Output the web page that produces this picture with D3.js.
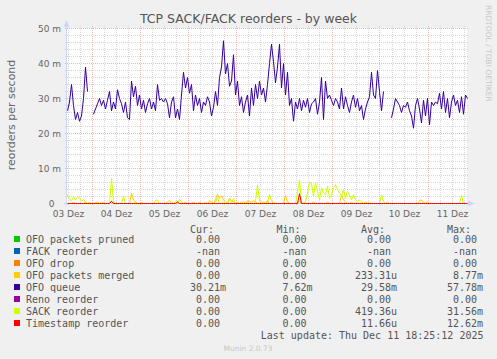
<!DOCTYPE html>
<html><head><meta charset="utf-8">
<script src="https://cdn.jsdelivr.net/npm/d3@7"></script>
<style>body{margin:0;background:#f0f0f0}svg{display:block}text{white-space:pre}</style>
</head><body><svg id="c" width="497" height="359"></svg>
<script>
const chartTitle = "TCP SACK/FACK reorders - by week";
const yTitle = "reorders per second";
const yTicks = [0, 10, 20, 30, 40, 50];
const yTickLabels = ["0", "10 m", "20 m", "30 m", "40 m", "50 m"];
const xLabelDays = [3, 4, 5, 6, 7, 8, 9, 10, 11];
const xLabels = ["03 Dez", "04 Dez", "05 Dez", "06 Dez", "07 Dez", "08 Dez", "09 Dez", "10 Dez", "11 Dez"];

// hourly samples (milli-reorders per second), starting 03 Dez 11:30
const ofoQueue = [
26.5,29,34,28,24,26,23.5,25,30,39,
32,null,null,25.5,27,28.5,30,28,29.5,27,
29.5,32,26.5,29,27,32.5,30,28.5,26,29,
24.5,24,35,30.5,33.5,28,31,27,29.5,26,
28.5,30,27,29,26.5,34,29.5,30,29,30,
28.5,24.5,29,30.5,24.5,27,24,31,37.5,33,
36,31.5,34,26.5,31,28,30,26,29,28,
30.5,29,25,27.5,32,28,36,39,46.5,37,
40,33.5,35,42.5,31,35,28,30.5,26,29,
31,25,33,28,34,30,35,31,33,29,
34,40,45.5,40.5,34.5,39,45.5,33,40,31,
37.5,28,30,23.5,29,27,30,26.5,29.5,27.5,
30,26,28.5,29,30,25.5,29,36,24,35,
30,31,29.5,28,30,29,27,33,27,30.5,
28,26,29,31,27.5,30,26.5,28,24,27,
29,30.5,37.5,31,30,38,32,26.5,32,null,
null,null,24.5,27,30,29,28,26,28,27.5,
29,26.5,25,21.5,28,30,27,23,29.5,25,
30,22.5,29,28,29,28.5,31.5,27,32,26,
30,24.5,29,31,28,29.5,26,30.5,25.5,31,
30];
const sackReorder = [
2.5,1.2,0.8,1.8,1,2,1.5,0.6,1.2,0.4,
0,0.3,0,0,0.3,0,0,0.2,0,0,
0,0,7.2,0.4,0,0,0,0,2.2,0,
0,0,0,0,0.5,0,0,0,0,0,
0,0,0,0,0.8,1,0,0,0,0,
0,0,0,0,0.5,0.3,1.2,0.4,0,0,
0,0,0,0,0,0,0,0,0,0.3,
0,0,0,0,0.4,1.7,0,0,0.5,0,
0.5,1,0.3,1.4,0,0,0,0.4,0,0,
0.3,0,0,0,0.5,5.3,0.8,0,0.4,0,
0.3,2.6,0.8,0,0,0,0,0,0,0,
0,0,0,0,0,3,6.8,0,0.3,0.5,
3,6,5.8,2,6,3.5,1,4.5,3,2.5,
5,1.5,2.5,4.5,5.4,4,3,2,4,1.5,
3.5,2.5,1,2.5,1.2,0.6,1,0.5,0,0.5,
0,0.3,0,0,0,0,0,2.5,0.5,0,
0.3,0,0,0,0,0,0,0,0,0,
0,0,0,0,0,0,0,0,0,0,
0,0,0,0,0,0,0,0,0,0,
0,0,0,0,0,0,0,2.3,0,0,
0];
const ofoMerged = [
0,0,0,0.3,0,0,0,0,0,0.4,
0,0,0,0,0,0.5,0,0,0.3,0,
0,0,0.8,0,0,0,0,0,0,0,
0,0,3,1,0.5,0,0,0.3,0,0,
0,0,0,0,0,0,0,0,0,0,
0.5,0.8,0.3,0,0,0.5,0,0,0,0.3,
0,0,0,0.4,0,0,0.3,0,0,0,
0,0.8,0.5,0,1.2,2.6,1.5,2.2,1,0.5,
0,1.5,0.8,0.5,0,0.3,0,0,0.6,0,
0.8,0.5,0.4,0.8,0.5,0,0,0.6,0,0.4,
0.8,0,0,0.3,0,0,0,0,0,2.3,
0.5,0,0,0,0,0,0.8,0,0,0,
0,0,0,0.5,0,0,0,0,0,0,
0.4,0,0,0,0,0,0,2.5,1,0.5,
0,0,0.3,0,0,0,0,0,0,0,
0,0,0,0,0,0,0,0,0,0,
0,0,0,0,0,0,0,0,0,0,
0,0,0,0,0,0,0.8,1,0.4,0,
0.5,0,0,0,0,0,0,0,0,0,
0,0,0,0,0,0,0,0,0,0,
0];
const tsReorder = [
0,0,0,0,0,0,0,0,0,0,
0,0,0,0,0,0,0,0,0,0,
0,0,0.6,0,0,0,0,0,0,0,
0,0,0,0,0,0,0,0,0,0,
0,0,0,0,0,0,0,0,0,0,
0,0,0,0,0,0.4,0,0,0,0,
0,0,0,0,0,0,0,0,0,0,
0,0,0,0,0,0,0,0,0,0,
0,0,0,0,0,0,0,0,0,0,
0,0,0,0,0,0,0,0,0,0,
0,0,0,0,0,0,0,0,0,0,
0,0,0,0,0,0,2.8,0,0,0,
0,0,0,0,0,0,0,0,0,0,
0,0,0,0,0,0,0,0,0,0,
0,0,0,0,0,0,0,0,0,0,
0,0,0,0,0,0,0,0,0,0,
0,0,0,0,0,0,0,0,0,0,
0,0,0,0,0,0,0,0,0,0,
0,0,0,0,0,0,0,0,0,0,
0,0,0,0,0,0,0,0,0,0,
0];

const legendNames = ["OFO packets pruned", "FACK reorder", "OFO drop", "OFO packets merged", "OFO queue", "Reno reorder", "SACK reorder", "Timestamp reorder"];
const legendColors = ["#00cc00", "#0066b3", "#ff8000", "#ffcc00", "#330099", "#990099", "#ccff00", "#ff0000"];
const curVals = ["0.00", "-nan", "0.00", "0.00", "30.21m", "0.00", "0.00", "0.00"];
const minVals = ["0.00", "-nan", "0.00", "0.00", "7.62m", "0.00", "0.00", "0.00"];
const avgVals = ["0.00", "-nan", "0.00", "233.31u", "29.58m", "0.00", "419.36u", "11.66u"];
const maxVals = ["0.00", "-nan", "0.00", "8.77m", "57.78m", "0.00", "31.56m", "12.62m"];
const colHeaders = ["Cur:", "Min:", "Avg:", "Max:"];
const lastUpdate = "Last update: Thu Dec 11 18:25:12 2025";
const munin = "Munin 2.0.73";
const watermark = "RRDTOOL / TOBI OETIKER";

const svg = d3.select("#c");
const SANS = "DejaVu Sans, sans-serif", MONO = "DejaVu Sans Mono, monospace";
svg.append("rect").attr("width", 497).attr("height", 359).attr("fill", "#f0f0f0");

const t0 = new Date(2025, 11, 3, 11, 30), t1 = new Date(2025, 11, 11, 19, 30);
const x = d3.scaleTime().domain([t0, t1]).range([67.5, 467.5]);
const y = d3.scaleLinear().domain([0, 50]).range([203.5, 28.5]);
const tAt = i => d3.timeHour.offset(t0, i);

svg.append("rect").attr("x", 67).attr("y", 28).attr("width", 400).attr("height", 175).attr("fill", "#fff");

const grid = svg.append("g").attr("stroke-width", 1).attr("stroke-dasharray", "1,1");
const minorC = "#d6d6d6", majorC = "#f0b4b4";
grid.selectAll(".hm").data(d3.range(0, 51, 2).filter(v => v % 10 !== 0)).join("line")
  .attr("x1", 65).attr("x2", 469).attr("y1", d => y(d)).attr("y2", d => y(d)).attr("stroke", minorC);
const sixH = d3.timeHour.every(6).range(t0, t1).filter(d => d.getHours() !== 0);
grid.selectAll(".vm").data(sixH).join("line")
  .attr("x1", d => Math.round(x(d)) - 0.5).attr("x2", d => Math.round(x(d)) - 0.5).attr("y1", 205).attr("y2", 25).attr("stroke", minorC);
grid.selectAll(".hM").data(yTicks).join("line")
  .attr("x1", 65).attr("x2", 469).attr("y1", d => y(d)).attr("y2", d => y(d)).attr("stroke", majorC);
const days = d3.timeDay.range(t0, t1);
grid.selectAll(".vM").data(days).join("line")
  .attr("x1", d => Math.round(x(d)) - 0.5).attr("x2", d => Math.round(x(d)) - 0.5).attr("y1", 205).attr("y2", 25).attr("stroke", majorC);

const axc = "#cfd6f8";
svg.append("line").attr("x1", 66.5).attr("x2", 66.5).attr("y1", 206).attr("y2", 24).attr("stroke", axc);
svg.append("path").attr("d", "M63.5,27L69.5,27L66.5,20Z").attr("fill", axc);
svg.append("line").attr("x1", 64).attr("x2", 470).attr("y1", 203.5).attr("y2", 203.5).attr("stroke", axc);
svg.append("path").attr("d", "M468,200.5L468,206.5L475,203.5Z").attr("fill", axc);

const line = d3.line().defined(d => d != null).x((d, i) => x(tAt(i))).y(d => y(d));
function draw(data, color) {
  svg.append("path").datum(data).attr("d", line).attr("fill", "none").attr("stroke", color).attr("stroke-width", 1);
}
draw(ofoMerged, legendColors[3]);
draw(ofoQueue, legendColors[4]);
draw(sackReorder, legendColors[6]);
draw(tsReorder, legendColors[7]);

svg.append("g").selectAll("text").data(yTicks).join("text")
  .attr("x", (d, i) => i === 0 ? 54.5 : 61).attr("y", d => y(d) + 3.5)
  .attr("text-anchor", "end").attr("font-family", SANS).attr("font-size", 9).attr("fill", "#666")
  .text((d, i) => yTickLabels[i]);
svg.append("g").selectAll("text").data(xLabelDays).join("text")
  .attr("x", d => x(new Date(2025, 11, d, 12))).attr("y", 217)
  .attr("text-anchor", "middle").attr("font-family", SANS).attr("font-size", 9).attr("fill", "#666")
  .text((d, i) => xLabels[i]);

svg.append("text").attr("x", 248.5).attr("y", 23).attr("text-anchor", "middle")
  .attr("font-family", SANS).attr("font-size", 12.5).attr("fill", "#555").text(chartTitle);
svg.append("text").attr("transform", "translate(14.5,115) rotate(-90)").attr("text-anchor", "middle")
  .attr("font-family", SANS).attr("font-size", 11).attr("fill", "#666").text(yTitle);
svg.append("text").attr("transform", "translate(486,5) rotate(90)").attr("text-anchor", "start")
  .attr("font-family", SANS).attr("font-size", 7.5).attr("fill", "#c8c8c8").text(watermark);

const colRight = [220, 306.5, 391, 477];
const lg = svg.append("g").attr("font-family", MONO).attr("font-size", 10).attr("fill", "#555");
colHeaders.forEach((h, j) => lg.append("text").attr("x", colRight[j] - 6).attr("y", 233).attr("text-anchor", "end").text(h));
const cols = [curVals, minVals, avgVals, maxVals];
legendNames.forEach((n, k) => {
  const by = 243 + 12 * k;
  lg.append("rect").attr("x", 14).attr("y", by - 7).attr("width", 6).attr("height", 6).attr("fill", legendColors[k]);
  lg.append("text").attr("x", 26).attr("y", by).text(n);
  cols.forEach((arr, j) => {
    const v = arr[k];
    const m = v.match(/^(.*?)([mu]?)$/);
    lg.append("text").attr("x", colRight[j]).attr("y", by).attr("text-anchor", "end").text(m[1]);
    if (m[2]) lg.append("text").attr("x", colRight[j]).attr("y", by).text(m[2]);
  });
});
lg.append("text").attr("x", 483.5).attr("y", 339).attr("text-anchor", "end").text(lastUpdate);
svg.append("text").attr("x", 248).attr("y", 351).attr("text-anchor", "middle")
  .attr("font-family", SANS).attr("font-size", 7.5).attr("fill", "#c8c8c8").text(munin);
</script></body></html>
